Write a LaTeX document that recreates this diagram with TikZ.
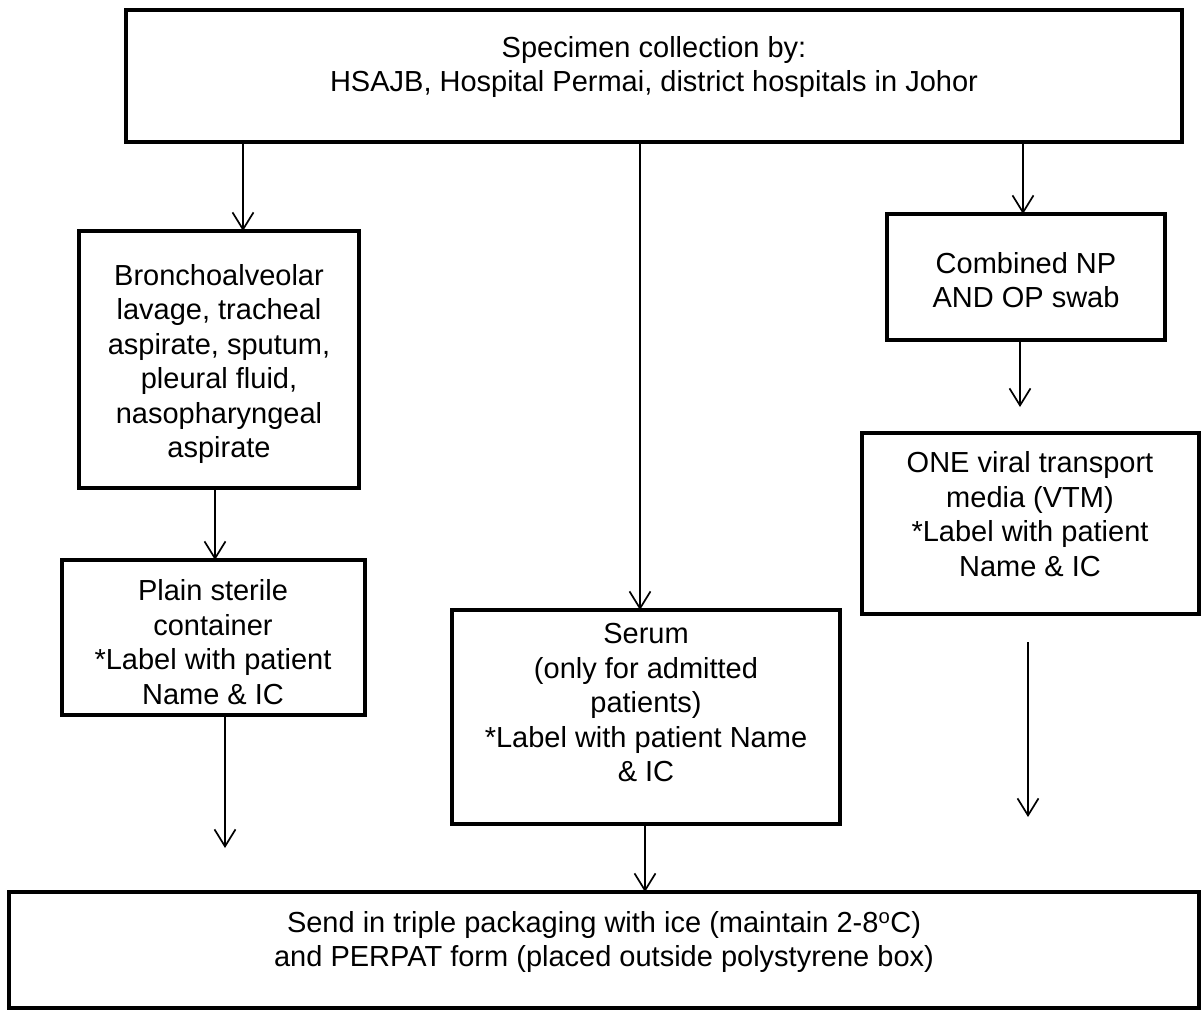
\documentclass[tikz,border=0pt]{standalone}
\usepackage{fontspec}
\setmainfont{Liberation Sans}
\usetikzlibrary{arrows.meta}
\tikzset{
  box/.style={draw=black, line width=4.5pt, inner sep=0pt, outer sep=0pt, line join=miter},
  boxtext/.style={align=center, inner sep=0pt, font=\fontsize{29}{34.5}\selectfont},
  arr/.style={draw=black, line width=1.7pt, -{Straight Barb[length=17pt,width=21pt]}}
}
\begin{document}
\begin{tikzpicture}[x=1pt,y=-1pt]
\useasboundingbox (0,0) rectangle (1202,1011);
% boxes
\node[box, minimum width=1056pt, minimum height=132pt] (top) at (654,76) {};
\node[box, minimum width=280pt, minimum height=257pt] (bronch) at (219,359.5) {};
\node[box, minimum width=303pt, minimum height=155pt] (plain) at (213.5,637.5) {};
\node[box, minimum width=388pt, minimum height=214pt] (serum) at (646,717) {};
\node[box, minimum width=278pt, minimum height=126pt] (comb) at (1026,277) {};
\node[box, minimum width=337pt, minimum height=181pt] (one) at (1030.5,523.5) {};
\node[box, minimum width=1190pt, minimum height=116pt] (bottom) at (604,950) {};
% texts
\node[boxtext] (top-t) at (654,67) {Specimen collection by:\\HSAJB, Hospital Permai, district hospitals in Johor};
\node[boxtext] (bronch-t) at (219,364) {Bronchoalveolar\\lavage, tracheal\\aspirate, sputum,\\pleural fluid,\\nasopharyngeal\\aspirate};
\node[boxtext] (plain-t) at (213,642) {Plain sterile\\container\\*Label with patient\\Name \& IC};
\node[boxtext] (serum-t) at (646,703) {Serum\\(only for admitted\\patients)\\*Label with patient Name\\\& IC};
\node[boxtext] (comb-t) at (1026,280) {Combined NP\\AND OP swab};
\node[boxtext] (one-t) at (1030,514) {ONE viral transport\\media (VTM)\\*Label with patient\\Name \& IC};
\node[boxtext] (bottom-t) at (604,942) {Send in triple packaging with ice (maintain 2-8\textsuperscript{o}C)\\and PERPAT form (placed outside polystyrene box)};
% x positions of connectors
\coordinate (xa) at (243,0);
\coordinate (xb) at (640,0);
\coordinate (xc) at (1023,0);
\coordinate (xd) at (215,0);
\coordinate (xe) at (1020,0);
\coordinate (xf) at (225,0);
\coordinate (xg) at (645,0);
% free ends
\coordinate (combend) at (1020,407);
\coordinate (plainend) at (225,848);
\coordinate (onestart) at (1028,642);
\coordinate (oneend) at (1028,817);
% connectors
\draw[arr] (top.south -| xa) -- (bronch.north -| xa);
\draw[arr] (top.south -| xb) -- (serum.north -| xb);
\draw[arr] (top.south -| xc) -- (comb.north -| xc);
\draw[arr] (bronch.south -| xd) -- (plain.north -| xd);
\draw[arr] (comb.south -| xe) -- (combend);
\draw[arr] (plain.south -| xf) -- (plainend);
\draw[arr] (serum.south -| xg) -- (bottom.north -| xg);
\draw[arr] (onestart) -- (oneend);
\end{tikzpicture}
\end{document}
